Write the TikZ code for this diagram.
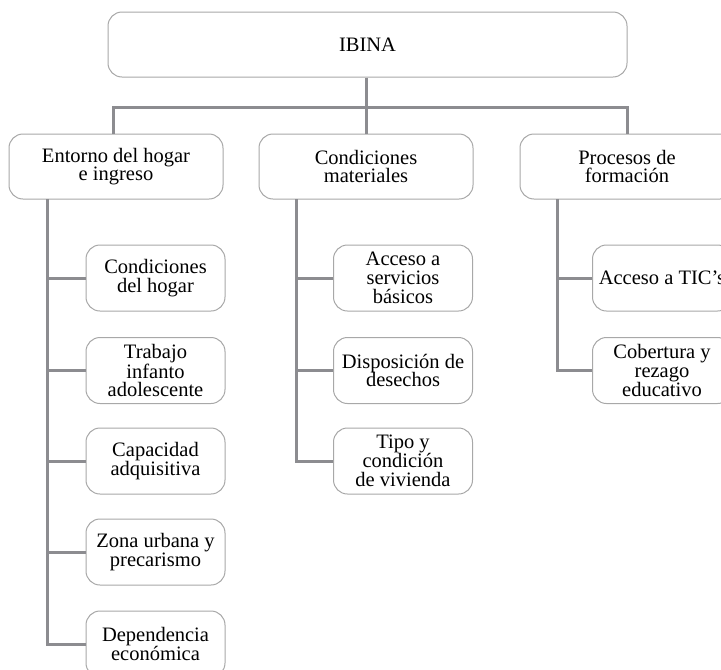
\documentclass[tikz,border=0pt]{standalone}
\usepackage{fontspec}
\setmainfont{Liberation Serif}
\definecolor{linkgray}{HTML}{8C8C90}
\definecolor{boxgray}{HTML}{A8A8A8}
\begin{document}
\begin{tikzpicture}[x=1pt,y=-1pt,
  box/.style={draw=boxgray, line width=1pt, rounded corners=14pt, fill=white,
    align=center, inner sep=0pt, font=\fontsize{20.5}{18.7}\selectfont},
  topbox/.style={box, minimum width=519pt, minimum height=65pt},
  groupbox/.style={box, minimum width=214pt, minimum height=65pt},
  leafbox/.style={box, minimum width=139pt, minimum height=66pt},
  link/.style={draw=linkgray, line width=3pt}]
\useasboundingbox (0,0) rectangle (721,670);

% root
\node[topbox] (ibina) at (367.5,44.5) {IBINA};

% second level
\node[groupbox] (entorno) at (116,166.5) {Entorno del hogar\\e ingreso};
\node[groupbox] (materiales) at (366,166.5) {Condiciones\\materiales};
\node[groupbox] (procesos) at (627,166.5) {Procesos de\\formación};

% leaves
\node[leafbox] (a1) at (155.5,278) {Condiciones\\del hogar};
\node[leafbox] (a2) at (155.5,370.5) {Trabajo\\infanto\\adolescente};
\node[leafbox] (a3) at (155.5,461) {Capacidad\\adquisitiva};
\node[leafbox] (a4) at (155.5,552) {Zona urbana y\\precarismo};
\node[leafbox] (a5) at (155.5,644) {Dependencia\\económica};

\node[leafbox] (b1) at (403,278) {Acceso a\\servicios\\básicos};
\node[leafbox] (b2) at (403,370.5) {Disposición de\\desechos};
\node[leafbox] (b3) at (403,461) {Tipo y\\condición\\de vivienda};

\node[leafbox] (c1) at (662,278) {Acceso a TIC’s};
\node[leafbox] (c2) at (662,370.5) {Cobertura y\\rezago\\educativo};

% connectors from the root
\coordinate (hub) at (366,107);
\draw[link] (ibina.south -| hub) -- (hub);
\draw[link] ([xshift=-3pt]entorno.north) |- (hub) -| (procesos.north);
\draw[link] (hub) -- (materiales.north);

% trunks down each group
\coordinate (ta) at (47,199);
\coordinate (tb) at (296,199);
\coordinate (tc) at (557,199);
\draw[link] (ta) |- (a5.west);
\foreach \n in {a1,a2,a3,a4} \draw[link] (\n.west) -- (\n.west -| ta);
\draw[link] (tb) |- (b3.west);
\foreach \n in {b1,b2} \draw[link] (\n.west) -- (\n.west -| tb);
\draw[link] (tc) |- (c2.west);
\draw[link] (c1.west) -- (c1.west -| tc);
\end{tikzpicture}
\end{document}
